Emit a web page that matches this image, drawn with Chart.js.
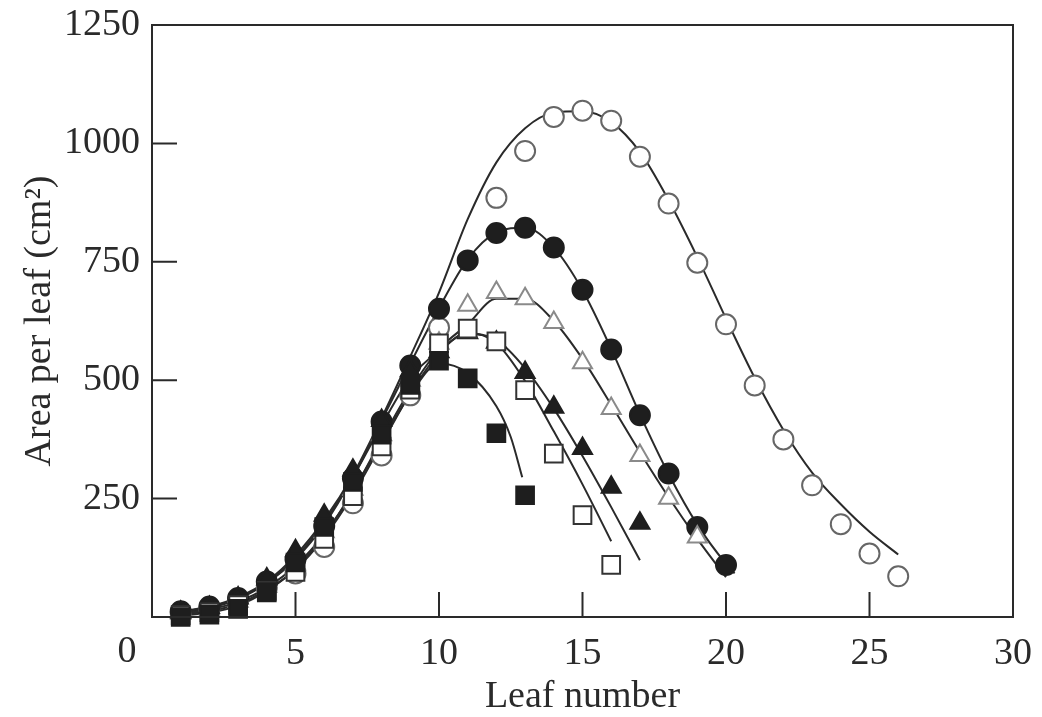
<!DOCTYPE html>
<html>
<head>
<meta charset="utf-8">
<script src="https://cdn.jsdelivr.net/npm/chart.js@4.4.1/dist/chart.umd.min.js"></script>
<style>
  html, body { margin: 0; padding: 0; background: #fff; }
  #wrap { width: 1042px; height: 717px; position: relative; }
</style>
</head>
<body>
<div id="wrap"><canvas id="leaf-chart"></canvas></div>
<script>
// Leaf area per leaf vs leaf number — six treatments, points + fitted curves

// axis ticks
const xTicks = [0, 5, 10, 15, 20, 25, 30];
const yTicks = [0, 250, 500, 750, 1000, 1250];
const xTickMarks = [5, 10, 15, 20, 25];
const yTickMarks = [250, 500, 750, 1000];

// observed points (leaf number / area cm2)
const ocLeaf = [1, 2, 3, 4, 5, 6, 7, 8, 9, 10, 12, 13, 14, 15, 16, 17, 18, 19, 20, 21, 22, 23, 24, 25, 26];
const ocArea = [8, 18, 35, 62, 92, 148, 240, 341, 468, 611, 885, 984, 1056, 1069, 1048, 972, 873, 748, 618, 489, 375, 278, 196, 134, 86];

const fcLeaf = [1, 2, 3, 4, 5, 6, 7, 8, 9, 10, 11, 12, 13, 14, 15, 16, 17, 18, 19, 20];
const fcArea = [12, 22, 40, 75, 122, 192, 293, 413, 531, 651, 753, 811, 822, 780, 691, 565, 426, 303, 190, 110];

const otLeaf = [1, 2, 3, 4, 5, 6, 7, 8, 9, 10, 11, 12, 13, 14, 15, 16, 17, 18, 19];
const otArea = [8, 17, 33, 65, 112, 180, 270, 385, 500, 578, 658, 685, 672, 622, 537, 440, 341, 251, 169];

const ftLeaf = [1, 2, 3, 4, 5, 6, 7, 8, 9, 10, 11, 12, 13, 14, 15, 16, 17];
const ftArea = [10, 20, 40, 80, 140, 215, 310, 415, 520, 560, 600, 580, 516, 443, 356, 274, 198];

const osLeaf = [1, 2, 3, 4, 5, 6, 7, 8, 9, 10, 11, 12, 13, 14, 15, 16];
const osArea = [4, 10, 25, 55, 95, 165, 255, 360, 480, 578, 609, 582, 479, 345, 215, 110];

const fsLeaf = [1, 2, 3, 4, 5, 6, 7, 8, 9, 10, 11, 12, 13];
const fsArea = [0, 5, 17, 52, 115, 190, 285, 385, 490, 541, 504, 388, 257];

// fitted curves
const ocCurveX = [1, 2, 3, 4, 5, 6, 7, 8, 9, 10, 11, 12, 13, 14, 15, 16, 17, 18, 19, 20, 21, 22, 23, 24, 25, 26];
const ocCurveY = [12, 22, 42, 75, 130, 205, 300, 420, 550, 685, 840, 960, 1032, 1065, 1068, 1045, 982, 880, 760, 630, 505, 395, 305, 238, 180, 132];

const fcCurveX = [1, 2, 3, 4, 5, 6, 7, 8, 9, 10, 11, 12, 13, 14, 15, 16, 17, 18, 19, 20, 20.3];
const fcCurveY = [11, 21, 40, 72, 122, 195, 295, 415, 535, 652, 755, 812, 822, 780, 690, 566, 428, 302, 195, 112, 92];

const otCurveX = [1, 2, 3, 4, 5, 6, 7, 8, 9, 10, 11, 12, 13, 14, 15, 16, 17, 18, 19, 20];
const otCurveY = [7, 16, 32, 62, 108, 175, 265, 375, 480, 565, 618, 672, 672, 625, 545, 448, 348, 253, 165, 84];

const ftCurveX = [1, 2, 3, 4, 5, 6, 7, 8, 9, 10, 11, 12, 13, 14, 15, 16, 17];
const ftCurveY = [9, 19, 38, 72, 125, 200, 295, 405, 505, 562, 598, 585, 525, 440, 340, 232, 120];

const osCurveX = [1, 2, 3, 4, 5, 6, 7, 8, 9, 10, 11, 12, 13, 14, 15, 16];
const osCurveY = [5, 12, 28, 58, 100, 168, 258, 365, 472, 556, 600, 578, 498, 392, 280, 160];

const fsCurveX = [1, 2, 3, 4, 5, 6, 7, 8, 9, 10, 11, 12, 12.5, 12.9];
const fsCurveY = [3, 9, 24, 55, 102, 172, 265, 370, 470, 535, 515, 445, 380, 295];

const pts = (xs, ys) => xs.map((x, i) => ({ x: x, y: ys[i] }));

const SERIF = '"Liberation Serif", "Times New Roman", serif';
const INK = '#2a2a2a';

function markers(xs, ys, style, fill, stroke, r) {
  return {
    data: pts(xs, ys),
    showLine: false,
    pointStyle: style,
    pointRadius: r,
    pointBackgroundColor: fill,
    pointBorderColor: stroke,
    pointBorderWidth: 2,
    clip: false,
    order: 1
  };
}

function curve(xs, ys) {
  return {
    data: pts(xs, ys),
    showLine: true,
    borderColor: INK,
    borderWidth: 2,
    pointRadius: 0,
    cubicInterpolationMode: 'monotone',
    order: 2
  };
}

// inward ticks, closed frame and the offset "0" label
const framePlugin = {
  id: 'frame',
  afterDraw(chart) {
    const { ctx, chartArea: a, scales } = chart;
    ctx.save();
    ctx.strokeStyle = INK;
    ctx.lineWidth = 2;
    ctx.strokeRect(a.left, a.top, a.right - a.left, a.bottom - a.top);
    ctx.beginPath();
    xTickMarks.forEach(v => {
      const px = scales.x.getPixelForValue(v);
      ctx.moveTo(px, a.bottom);
      ctx.lineTo(px, a.bottom - 25);
    });
    yTickMarks.forEach(v => {
      const py = scales.y.getPixelForValue(v);
      ctx.moveTo(a.left, py);
      ctx.lineTo(a.left + 25, py);
    });
    ctx.stroke();
    ctx.fillStyle = INK;
    ctx.font = '38px ' + SERIF;
    ctx.textAlign = 'center';
    ctx.textBaseline = 'middle';
    ctx.fillText('0', a.left - 25, a.bottom + 35);
    ctx.restore();
  }
};

new Chart(document.getElementById('leaf-chart'), {
  type: 'scatter',
  data: {
    datasets: [
      curve(ocCurveX, ocCurveY),
      curve(fcCurveX, fcCurveY),
      curve(otCurveX, otCurveY),
      curve(ftCurveX, ftCurveY),
      curve(osCurveX, osCurveY),
      curve(fsCurveX, fsCurveY),
      markers(fsLeaf, fsArea, 'rect', '#1e1e1e', '#1e1e1e', 12.5),
      markers(osLeaf, osArea, 'rect', '#ffffff', '#333333', 12.5),
      markers(ftLeaf, ftArea, 'triangle', '#1e1e1e', '#1e1e1e', 11),
      markers(otLeaf, otArea, 'triangle', '#ffffff', '#8a8a8a', 11),
      markers(fcLeaf, fcArea, 'circle', '#1e1e1e', '#1e1e1e', 10),
      markers(ocLeaf, ocArea, 'circle', '#ffffff', '#666666', 10)
    ]
  },
  options: {
    responsive: true,
    maintainAspectRatio: false,
    animation: false,
    layout: { padding: { top: 25, right: 29, left: 0, bottom: 0 } },
    scales: {
      x: {
        type: 'linear',
        min: xTicks[0],
        max: xTicks[xTicks.length - 1],
        afterBuildTicks: s => { s.ticks = xTicks.map(v => ({ value: v })); },
        afterFit: s => { s.height = 100; s.paddingLeft = 0; s.paddingRight = 0; },
        grid: { display: false, drawTicks: false },
        border: { display: true, color: INK, width: 2 },
        ticks: {
          color: INK,
          padding: 14,
          font: { family: SERIF, size: 38 },
          callback: v => (v === 0 ? '' : v)
        },
        title: {
          display: true,
          text: 'Leaf number',
          color: INK,
          font: { family: SERIF, size: 38, lineHeight: 1 },
          padding: { top: 0, bottom: 1 }
        }
      },
      y: {
        type: 'linear',
        min: yTicks[0],
        max: yTicks[yTicks.length - 1],
        afterBuildTicks: s => { s.ticks = yTicks.map(v => ({ value: v })); },
        afterFit: s => { s.width = 152; s.paddingTop = 0; s.paddingBottom = 0; },
        grid: { display: false, drawTicks: false },
        border: { display: true, color: INK, width: 2 },
        ticks: {
          color: INK,
          padding: 12,
          font: { family: SERIF, size: 38 },
          callback: v => (v === 0 ? '' : v)
        },
        title: {
          display: true,
          text: 'Area per leaf (cm²)',
          color: INK,
          font: { family: SERIF, size: 38, lineHeight: 1 },
          padding: { top: 21, bottom: 0 }
        }
      }
    },
    plugins: {
      legend: { display: false },
      tooltip: { enabled: false }
    }
  },
  plugins: [framePlugin]
});
</script>
</body>
</html>
